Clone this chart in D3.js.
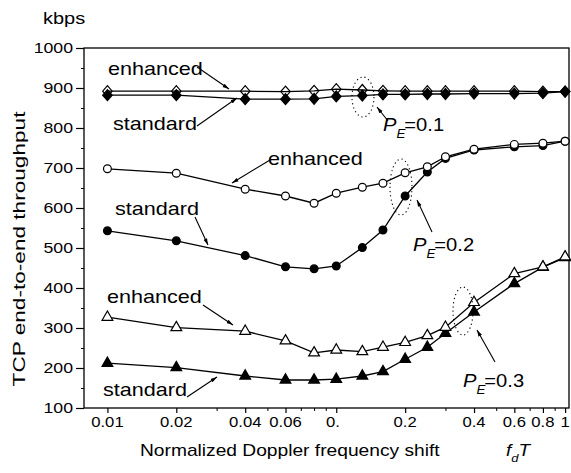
<!DOCTYPE html>
<html>
<head>
<meta charset="utf-8">
<script src="https://cdn.jsdelivr.net/npm/d3@7/dist/d3.min.js"></script>
<style>
  body { margin: 0; background: #fff; }
  text { font-family: 'Liberation Sans', Arial, sans-serif; fill: #000; }
</style>
</head>
<body>
<svg id="chart" width="571" height="473"></svg>
<script>
// normalized Doppler shift values where the curves were sampled
const fdT = [0.01, 0.02, 0.04, 0.06, 0.08, 0.1, 0.13, 0.16, 0.2, 0.25, 0.3, 0.4, 0.6, 0.8, 1]
const xTickValues = [0.01, 0.02, 0.04, 0.06, 0.1, 0.2, 0.4, 0.6, 0.8, 1]
const xTickLabels = ['0.01', '0.02', '0.04', '0.06', '0.', '0.2', '0.4', '0.6', '0.8', '1']
const xMinorTicks = [0.03, 0.05, 0.07, 0.08, 0.09, 0.3, 0.5, 0.7, 0.9]
const yTickValues = [100, 200, 300, 400, 500, 600, 700, 800, 900, 1000]

// throughput in kbps
const enhanced01 = [892, 892, 892, 891, 893, 897, 895, 893, 892, 892, 892, 892, 892, 891, 891]
const standard01 = [882, 882, 872, 872, 873, 879, 881, 884, 884, 885, 885, 886, 886, 887, 891]
const enhanced02 = [698, 687, 647, 630, 612, 637, 652, 662, 688, 703, 728, 747, 759, 762, 767]
const standard02 = [543, 518, 481, 453, 448, 455, 501, 545, 630, 690, 724, 745, 753, 756, 767]
const enhanced03 = [327, 301, 292, 268, 238, 245, 241, 252, 264, 281, 302, 364, 436, 453, 478]
const standard03 = [212, 201, 180, 170, 170, 172, 180, 191, 222, 252, 287, 340, 411, 452, 476]

const svg = d3.select('#chart')
const plotLeft = 84, plotRight = 569, plotTop = 48, plotBottom = 408

let x = d3.scaleLog().domain([0.0079, 1.04]).range([plotLeft, plotRight])
let y = d3.scaleLinear().domain([100, 1000]).range([plotBottom, plotTop])

// text in the scan is a bit wider than the font, so stretch it
function label (px, py, sx, size, anchor) {
  return svg.append('g')
    .attr('transform', 'translate(' + px + ',' + py + ') scale(' + sx + ',1)')
    .append('text')
    .style('font-size', size + 'px')
    .attr('text-anchor', anchor || 'start')
}

// frame
svg.append('rect')
  .attr('x', plotLeft).attr('y', plotTop)
  .attr('width', plotRight - plotLeft).attr('height', plotBottom - plotTop)
  .attr('fill', 'none').attr('stroke', '#000').attr('stroke-width', 1.3)

// y axis
let yAxis = svg.append('g').attr('transform', 'translate(' + plotLeft + ',0)')
  .call(d3.axisLeft(y).tickValues(yTickValues).tickSize(8).tickPadding(3).tickFormat(d => ''))
yAxis.select('.domain').remove()
yAxis.selectAll('line').attr('stroke-width', 1.2)
svg.append('g').attr('transform', 'translate(' + plotLeft + ',0)')
  .call(d3.axisLeft(y).tickValues(d3.range(150, 1000, 100)).tickSize(3).tickFormat(''))
  .call(g => g.select('.domain').remove())
yTickValues.forEach(v => {
  label(73, y(v) + 5, 1.22, 14.5, 'end').text(v)
})

// x axis
let xAxis = svg.append('g').attr('transform', 'translate(0,' + plotBottom + ')')
  .call(d3.axisBottom(x).tickValues(xTickValues).tickSize(5).tickFormat(''))
xAxis.select('.domain').remove()
xAxis.selectAll('line').attr('stroke-width', 1.2)
svg.append('g').attr('transform', 'translate(0,' + plotBottom + ')')
  .call(d3.axisBottom(x).tickValues(xMinorTicks).tickSize(3).tickFormat(''))
  .call(g => g.select('.domain').remove())
xTickValues.forEach((v, i) => {
  let t = label(x(v), 427, 1.15, 14.5, xTickLabels[i] === '0.' ? 'start' : 'middle').text(xTickLabels[i])
  if (xTickLabels[i] === '0.') t.attr('x', -9)
})

// axis titles
label(43, 24, 1.25, 16).text('kbps')
svg.append('g')
  .attr('transform', 'translate(25,249) rotate(-90) scale(1.33,1)')
  .append('text').style('font-size', '17px').attr('text-anchor', 'middle')
  .text('TCP end-to-end throughput')
label(140, 456, 1.2, 16).text('Normalized Doppler frequency shift')
let ft = label(506, 456, 1.18, 16)
ft.append('tspan').style('font-style', 'italic').text('f')
ft.append('tspan').style('font-style', 'italic').style('font-size', '11px').attr('dy', 6).text('d')
ft.append('tspan').style('font-style', 'italic').attr('dy', -6).text('T')

// markers
function diamondShape (w, h) {
  return {
    draw: function (ctx) {
      ctx.moveTo(0, -h / 2)
      ctx.lineTo(w / 2, 0)
      ctx.lineTo(0, h / 2)
      ctx.lineTo(-w / 2, 0)
      ctx.closePath()
    }
  }
}
const shapes = {
  diamond: d3.symbol().type(diamondShape(9.5, 11))(),
  circle: d3.symbol().type(d3.symbolCircle).size(48)(),
  triangle: d3.symbol().type(d3.symbolTriangle).size(50)()
}

let line = d3.line().x(d => x(d[0])).y(d => y(d[1]))

function drawSeries (values, shape, filled) {
  let pts = fdT.map((f, i) => [f, values[i]])
  svg.append('path')
    .datum(pts)
    .attr('d', line)
    .attr('fill', 'none')
    .attr('stroke', '#000')
    .attr('stroke-width', 1.3)
  svg.append('g').selectAll('path')
    .data(pts)
    .enter()
    .append('path')
    .attr('d', shapes[shape])
    .attr('transform', d => 'translate(' + x(d[0]) + ',' + y(d[1]) + ')')
    .attr('fill', filled ? '#000' : (shape === 'diamond' ? 'none' : '#fff'))
    .attr('stroke', '#000')
    .attr('stroke-width', 1.2)
}

drawSeries(enhanced01, 'diamond', false)
drawSeries(standard01, 'diamond', true)
drawSeries(standard02, 'circle', true)
drawSeries(enhanced02, 'circle', false)
drawSeries(standard03, 'triangle', true)
drawSeries(enhanced03, 'triangle', false)

// annotations
svg.append('defs').append('marker')
  .attr('id', 'head')
  .attr('viewBox', '0 0 10 10')
  .attr('refX', 10).attr('refY', 5)
  .attr('markerWidth', 6).attr('markerHeight', 6)
  .attr('orient', 'auto')
  .append('path').attr('d', 'M0,2L10,5L0,8Z').attr('fill', '#000')

const arrows = [
  [197, 67, 229, 89], [197, 126, 237, 98], [388, 121, 377, 107],
  [270, 160, 232, 183], [195, 217, 208, 245], [432, 232, 417, 200],
  [203, 305, 233, 325], [187, 397, 217, 377], [495, 362, 477, 330]
]
arrows.forEach(a => {
  svg.append('line')
    .attr('x1', a[0]).attr('y1', a[1]).attr('x2', a[2]).attr('y2', a[3])
    .attr('stroke', '#000').attr('stroke-width', 1.1)
    .attr('marker-end', 'url(#head)')
})

const ellipses = [[363, 97, 11, 20], [401, 187, 11, 28], [463, 311, 10, 24]]
ellipses.forEach(e => {
  svg.append('ellipse')
    .attr('cx', e[0]).attr('cy', e[1]).attr('rx', e[2]).attr('ry', e[3])
    .attr('fill', 'none').attr('stroke', '#000').attr('stroke-width', 1.1)
    .attr('stroke-dasharray', '1.2,3')
})

const words = [
  ['enhanced', 108, 75], ['standard', 113, 130],
  ['enhanced', 268, 165], ['standard', 115, 215],
  ['enhanced', 107, 303], ['standard', 103, 396]
]
words.forEach(w => label(w[1], w[2], 1.2, 18).text(w[0]))

const peLabels = [['0.1', 383, 131], ['0.2', 413, 251], ['0.3', 463, 387]]
peLabels.forEach(p => {
  let t = label(p[1], p[2], 1.12, 18)
  t.append('tspan').style('font-style', 'italic').text('P')
  t.append('tspan').style('font-style', 'italic').style('font-size', '12px').attr('dy', 7).text('E')
  t.append('tspan').attr('dy', -7).attr('dx', -1).text('=' + p[0])
})
</script>
</body>
</html>
